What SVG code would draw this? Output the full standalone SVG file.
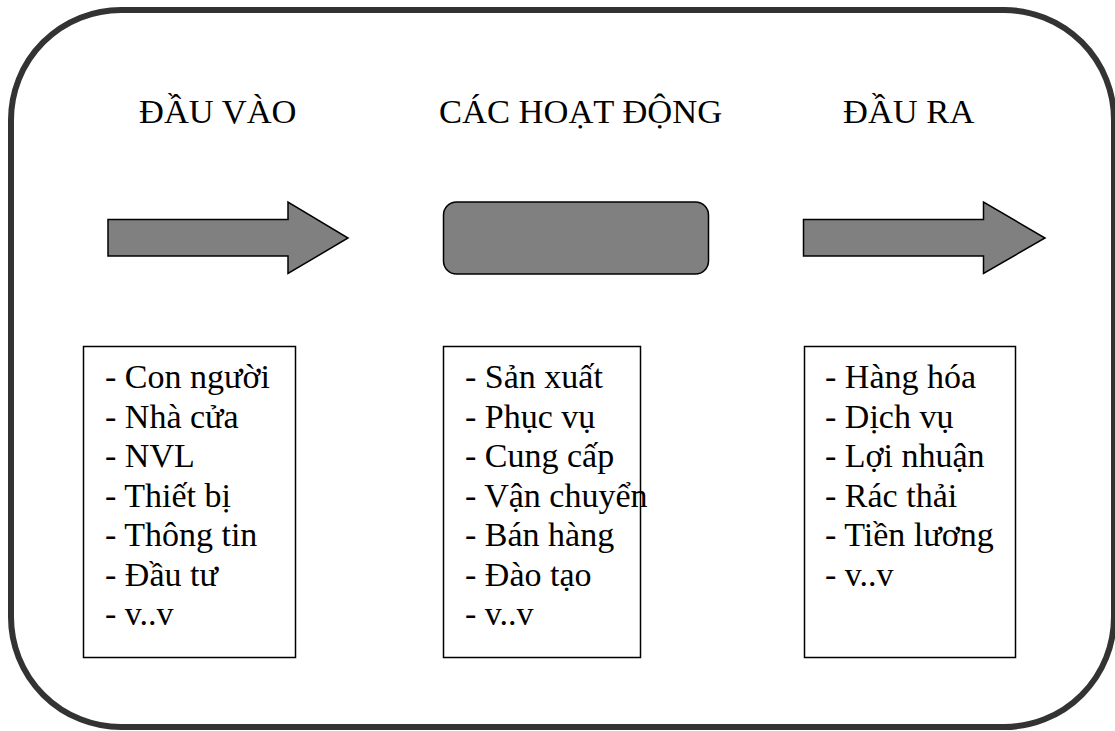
<svg xmlns="http://www.w3.org/2000/svg" width="1115" height="731" viewBox="0 0 1115 731">
  <style>
    .frame { fill: #ffffff; stroke: #333333; stroke-width: 6; }
    .shape { fill: #808080; stroke: #000000; stroke-width: 1.5; stroke-linejoin: miter; }
    .box { fill: #ffffff; stroke: #000000; stroke-width: 1.5; }
    .head { font-family: "Liberation Serif", "Times New Roman", serif; font-size: 34.5px; fill: #000000; }
    .item { font-family: "Liberation Serif", "Times New Roman", serif; font-size: 34px; fill: #000000; }
  </style>

  <!-- outer frame -->
  <rect class="frame" x="11" y="10" width="1103" height="717" rx="110" ry="110"/>

  <!-- column titles -->
  <g id="titles">
    <text class="head" x="139" y="122.5">ĐẦU VÀO</text>
    <text class="head" x="439" y="122.5">CÁC HOẠT ĐỘNG</text>
    <text class="head" x="843" y="122.5">ĐẦU RA</text>
  </g>

  <!-- flow shapes -->
  <g id="connectors">
    <polygon id="arrow-in" class="shape" points="108,219.5 288,219.5 288,202 348,238 288,273.5 288,256 108,256"/>
    <polygon id="arrow-out" class="shape" points="803.5,219.5 983.5,219.5 983.5,202 1045,238 983.5,273.5 983.5,256 803.5,256"/>
  </g>
  <g id="activities">
    <rect class="shape" x="443.5" y="202" width="265" height="72" rx="13" ry="13"/>
  </g>

  <!-- input list -->
  <g id="inputs">
    <rect class="box" x="83.5" y="346.5" width="212" height="311"/>
    <text class="item" x="105">
      <tspan x="105" y="388">- Con người</tspan>
      <tspan x="105" y="427.5">- Nhà cửa</tspan>
      <tspan x="105" y="467">- NVL</tspan>
      <tspan x="105" y="506.5">- Thiết bị</tspan>
      <tspan x="105" y="546">- Thông tin</tspan>
      <tspan x="105" y="585.5">- Đầu tư</tspan>
      <tspan x="105" y="625">- v..v</tspan>
    </text>
  </g>

  <!-- activity list -->
  <g id="processes">
    <rect class="box" x="443.5" y="346.5" width="197" height="311"/>
    <text class="item" x="465">
      <tspan x="465" y="388">- Sản xuất</tspan>
      <tspan x="465" y="427.5">- Phục vụ</tspan>
      <tspan x="465" y="467">- Cung cấp</tspan>
      <tspan x="465" y="506.5">- Vận chuyển</tspan>
      <tspan x="465" y="546">- Bán hàng</tspan>
      <tspan x="465" y="585.5">- Đào tạo</tspan>
      <tspan x="465" y="625">- v..v</tspan>
    </text>
  </g>

  <!-- output list -->
  <g id="outputs">
    <rect class="box" x="804.5" y="346.5" width="211" height="311"/>
    <text class="item" x="825">
      <tspan x="825" y="388">- Hàng hóa</tspan>
      <tspan x="825" y="427.5">- Dịch vụ</tspan>
      <tspan x="825" y="467">- Lợi nhuận</tspan>
      <tspan x="825" y="506.5">- Rác thải</tspan>
      <tspan x="825" y="546">- Tiền lương</tspan>
      <tspan x="825" y="585.5">- v..v</tspan>
    </text>
  </g>
</svg>
